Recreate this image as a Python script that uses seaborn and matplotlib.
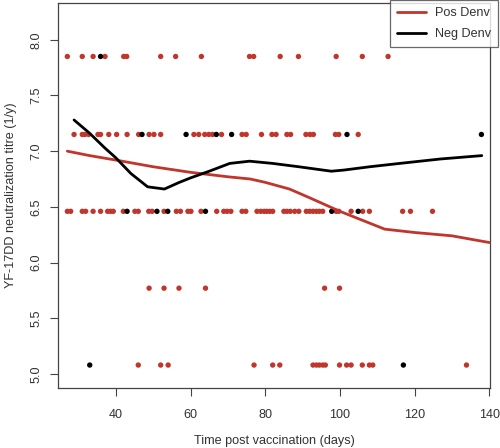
import numpy as np
import pandas as pd
import matplotlib
matplotlib.use("Agg")
import matplotlib.pyplot as plt
import seaborn as sns

# ---- data ----
# titre levels (log scale) of the rows
lvl_2560 = 7.85
lvl_1280 = 7.15
lvl_640 = 6.46
lvl_320 = 5.77
lvl_160 = 5.08

pos_2560 = [27.0, 31.0, 33.9, 37.1, 42.1, 42.9, 52.0, 56.0, 62.9, 75.8, 76.9,
            84.0, 88.9, 99.0, 106.0, 112.9]
neg_2560 = [35.9]

pos_1280 = [28.8, 31.0, 31.7, 32.7, 35.2, 35.9, 38.1, 40.2, 43.0, 46.1, 48.9,
            50.2, 52.0, 60.9, 62.2, 63.8, 64.9, 65.9, 68.3, 73.8, 74.9, 79.0,
            81.8, 82.9, 85.8, 86.8, 90.9, 92.0, 92.9, 98.8, 99.7, 104.9]
neg_1280 = [47.0, 58.8, 66.9, 71.0, 101.9, 137.9]

pos_640 = [27.0, 27.9, 31.0, 31.9, 33.9, 35.9, 37.8, 38.6, 39.3, 42.0, 45.1,
           46.0, 48.8, 49.7, 52.9, 56.2, 57.3, 59.3, 60.1, 62.8, 67.0, 68.9,
           69.8, 70.8, 73.8, 74.8, 77.8, 78.8, 79.7, 80.4, 81.2, 82.0, 85.0,
           85.8, 86.7, 87.9, 89.0, 91.0, 91.9, 92.8, 93.7, 94.5, 95.4, 99.0,
           99.7, 103.0, 106.1, 107.9, 116.8, 118.9, 124.8]
neg_640 = [43.0, 51.0, 53.9, 64.0, 97.8, 104.9]

pos_320 = [48.9, 52.9, 56.9, 64.0, 95.9, 99.9]
neg_320 = []

pos_160 = [46.0, 52.0, 54.0, 77.0, 82.0, 83.9, 92.8, 93.7, 94.5, 95.4, 96.1,
           99.9, 101.8, 103.0, 106.0, 107.9, 108.8, 133.9]
neg_160 = [33.0, 117.0]

# smoothed fits
pos_fit_x = [27, 33, 40, 50, 60, 70, 76, 80, 86.5, 92, 100, 106, 112, 120, 130, 140]
pos_fit_y = [7.00, 6.96, 6.92, 6.86, 6.81, 6.77, 6.75, 6.72, 6.66, 6.58, 6.46,
             6.38, 6.30, 6.27, 6.24, 6.18]
neg_fit_x = [28.8, 33, 37, 40, 44, 48.5, 53, 57, 60, 65, 70.5, 75.8, 82, 89,
             97.7, 101, 108, 116, 127, 138]
neg_fit_y = [7.28, 7.16, 7.03, 6.94, 6.80, 6.68, 6.66, 6.72, 6.76, 6.82, 6.89,
             6.91, 6.89, 6.86, 6.82, 6.83, 6.86, 6.89, 6.93, 6.96]

RED = "#c0362c"
BLACK = "#000000"

rows = []
for lvl, p, n in [(lvl_2560, pos_2560, neg_2560), (lvl_1280, pos_1280, neg_1280),
                  (lvl_640, pos_640, neg_640), (lvl_320, pos_320, neg_320),
                  (lvl_160, pos_160, neg_160)]:
    rows += [(d, lvl, "Pos Denv") for d in p]
    rows += [(d, lvl, "Neg Denv") for d in n]
pts = pd.DataFrame(rows, columns=["day", "titre", "group"])

fits = pd.concat([
    pd.DataFrame({"day": pos_fit_x, "titre": pos_fit_y, "group": "Pos Denv"}),
    pd.DataFrame({"day": neg_fit_x, "titre": neg_fit_y, "group": "Neg Denv"}),
])

sns.set_style("white")
plt.rcParams["font.family"] = ["Liberation Sans", "DejaVu Sans"]

fig = plt.figure(figsize=(5.0, 4.48), dpi=100)
ax = fig.add_axes([58 / 500, 1 - 388 / 448, (490 - 58) / 500, (388 - 3) / 448])

pal = {"Pos Denv": RED, "Neg Denv": BLACK}
sns.scatterplot(data=pts, x="day", y="titre", hue="group", palette=pal,
                s=15, linewidth=0, ax=ax, legend=False, zorder=2)
sns.lineplot(data=fits, x="day", y="titre", hue="group", palette=pal,
             hue_order=["Pos Denv", "Neg Denv"], sort=False, estimator=None,
             linewidth=2.0, ax=ax, zorder=3)

ax.set_xlim(24.5, 140.2)
ax.set_ylim(4.874, 8.33)
ax.set_xticks([40, 60, 80, 100, 120, 140])
ax.set_yticks([5.0, 5.5, 6.0, 6.5, 7.0, 7.5, 8.0])
ax.set_yticklabels(["5.0", "5.5", "6.0", "6.5", "7.0", "7.5", "8.0"],
                   rotation=90, va="center")
txtc = "#333333"
ax.tick_params(axis="both", which="major", direction="out", length=6,
               width=0.8, color="#444444", labelsize=9.1, labelcolor=txtc,
               bottom=True, left=True)
ax.tick_params(axis="x", pad=9)
ax.tick_params(axis="y", pad=5)
for sp in ax.spines.values():
    sp.set_color("#444444")
    sp.set_linewidth(0.9)
ax.set_xlabel("Time post vaccination (days)", fontsize=9.1, color=txtc, labelpad=10)
ax.set_ylabel("YF-17DD neutralization titre (1/y)", fontsize=9.1, color=txtc, labelpad=10)

h, l = ax.get_legend_handles_labels()
leg = ax.legend(h, l, loc="upper right", bbox_to_anchor=(498 / 500, 1.0),
                bbox_transform=fig.transFigure, frameon=True, fancybox=False,
                fontsize=9.1, handlelength=2.3, handletextpad=0.7,
                borderaxespad=0, borderpad=0.55, labelspacing=0.75)
leg.get_frame().set_edgecolor("#444444")
leg.get_frame().set_linewidth(0.9)
for t in leg.get_texts():
    t.set_color(txtc)
for line in leg.get_lines():
    line.set_linewidth(2.0)

fig.savefig("out.png", dpi=100)
